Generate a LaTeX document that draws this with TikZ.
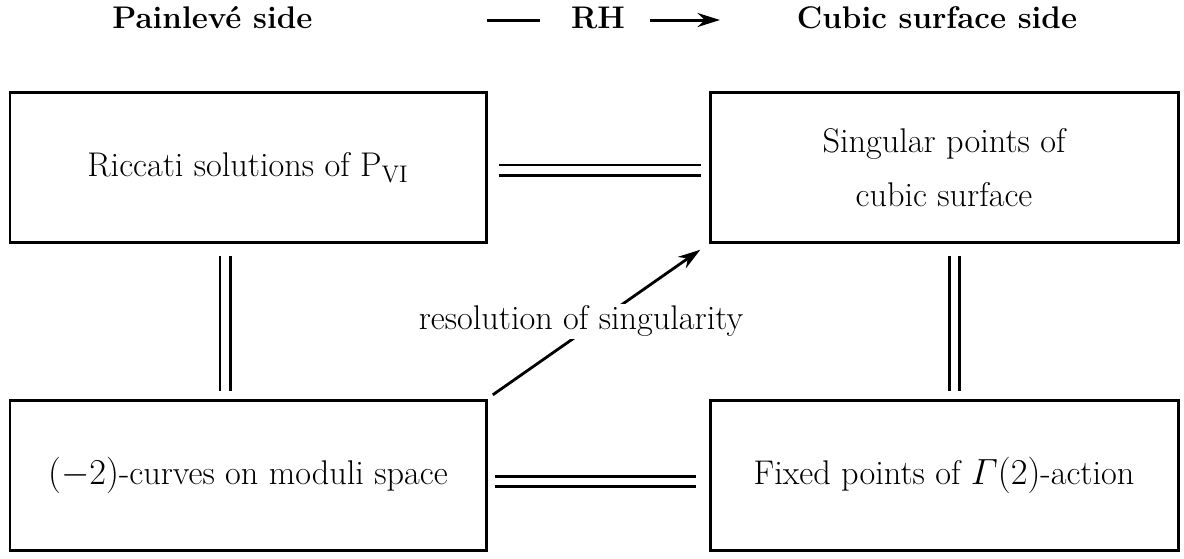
\documentclass[tikz,border=0pt]{standalone}
\usepackage{fontspec}
\usepackage{amsmath}
\usetikzlibrary{calc, arrows.meta}

\begin{document}
\begin{tikzpicture}[block/.style={align=center,rectangle,draw,line width=1.7pt,minimum height=3.0cm,font=\fontsize{19.5}{31}\selectfont},
    side/.style={anchor=base,font=\fontsize{17.8}{21}\selectfont\bfseries},
    eq/.style={double,line width=1.7pt,double distance=4pt}]
        \useasboundingbox (0,0) rectangle (23.68,-11.16);
        \node [side] (P) at (4.25,-0.56) {Painlevé side};
        \node [side] (RH) at (11.96,-0.56) {RH};
        \node [side] (Cs) at (18.74,-0.56) {Cubic surface side};
        \coordinate (l1) at (9.74,-0.40);
        \coordinate (l2) at (10.80,-0.40);
        \coordinate (r1) at (13.00,-0.40);
        \coordinate (r2) at (14.40,-0.40);
        \node [block,minimum width=9.52cm] (R) at (4.96,-3.35) {Riccati solutions of $\mathrm{P}_{\mathrm{VI}}$};
        \node [block,minimum width=9.36cm] (S) at (18.88,-3.35) {Singular points of\\cubic surface};
        \node [block,minimum width=9.52cm] (C) at (4.96,-9.50) {$(-2)$-curves on moduli space};
        \node [block,minimum width=9.36cm] (F) at (18.88,-9.50) {Fixed points of $\varGamma(2)$-action};
        \draw[line width=1.7pt] (l1) -- (l2);
        \draw[line width=1.7pt,-{Stealth[length=4.5mm,width=2.8mm]}] (r1) -- (r2);
        \draw[eq,shorten <=0.22cm,shorten >=0.16cm] ([yshift=-0.5mm]R.east) -- ([yshift=-0.5mm]S.west);
        \draw[eq,shorten <=0.14cm,shorten >=0.26cm] ([yshift=-1.2mm]C.east) -- ([yshift=-1.2mm]F.west);
        \draw[eq,shorten <=0.24cm,shorten >=0.16cm] ([xshift=-4.6mm]R.south) -- ([xshift=-4.6mm]C.north);
        \draw[eq,shorten <=0.24cm,shorten >=0.16cm] ([xshift=2.1mm]S.south) -- ([xshift=2.1mm]F.north);
        \draw[line width=1.6pt,-{Stealth[length=4.5mm,width=2.8mm]},shorten <=0.13cm,shorten >=0.2cm] (C.north east) -- (S.south west)
            node[pos=.5,xshift=-3.4mm,fill=white,inner sep=1pt,font=\fontsize{19.5}{24}\selectfont] {resolution of singularity};
    \end{tikzpicture}
\end{document}
